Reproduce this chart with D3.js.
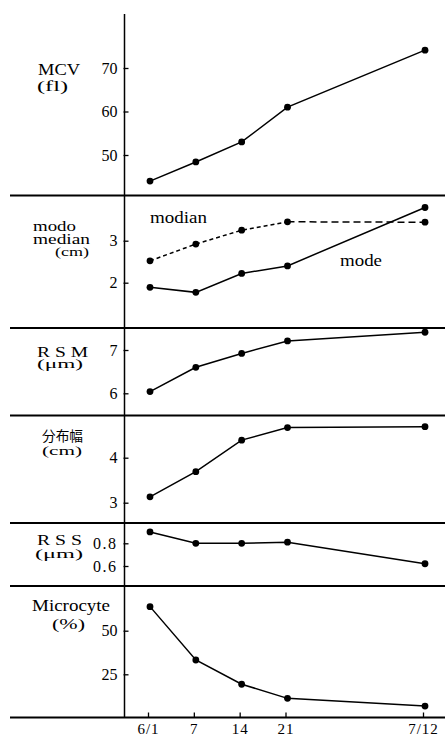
<!DOCTYPE html>
<html><head><meta charset="utf-8">
<script src="https://cdn.jsdelivr.net/npm/d3@7"></script>
<style>
html,body{margin:0;padding:0;background:#fff;}
svg{display:block;}
</style></head>
<body>
<svg id="c" width="445" height="737"></svg>
<script>
// ---- data ----
const weeks = [0, 1, 2, 3, 6];
const dateLabels = ["6/1", "7", "14", "21", "7/12"];
const mcv = [44, 48.4, 53, 61, 74.1];
const medianVals = [2.52, 2.92, 3.25, 3.45, 3.44];
const modeVals = [1.89, 1.77, 2.22, 2.40, 3.79];
const rsm = [6.04, 6.60, 6.92, 7.21, 7.41];
const distWidth = [3.13, 3.69, 4.39, 4.67, 4.69];
const rss = [0.90, 0.80, 0.80, 0.81, 0.62];
const microcyte = [63.8, 33.2, 19.3, 11.2, 6.8];

const mcvTicks = [50, 60, 70];
const modoTicks = [2, 3];
const rsmTicks = [6, 7];
const widthTicks = [3, 4];
const rssTicks = [0.6, 0.8];
const microTicks = [25, 50];

// ---- layout ----
const svg = d3.select("#c");
const axisX = 124.5;
const x = d3.scaleLinear().domain([0, 6]).range([150, 425]);
const serif = "'Liberation Serif', 'Times New Roman', serif";
const cjk = "'Noto Sans CJK JP', sans-serif";

// label: [text, x, baseline, size, width, font]
const panels = [
  {ticks: mcvTicks, dom: [50, 70], rng: [155, 68], fmt: d3.format("d"),
   series: [{v: mcv}],
   labels: [["MCV", 38, 75, 16, 42, serif], ["(fl)", 37, 91, 14, 31, serif]]},
  {ticks: modoTicks, dom: [2, 3], rng: [282.7, 240.7], fmt: d3.format("d"),
   series: [{v: modeVals}, {v: medianVals, dashed: true}],
   labels: [["modo", 33, 231, 15, 43, serif], ["median", 33, 244, 15, 57, serif], ["(cm)", 55, 256, 12, 34, serif]]},
  {ticks: rsmTicks, dom: [6, 7], rng: [393.3, 350], fmt: d3.format("d"),
   series: [{v: rsm}],
   labels: [["R S M", 37, 357, 15, 51, serif], ["(μm)", 37, 368, 13, 46, serif]]},
  {ticks: widthTicks, dom: [3, 4], rng: [502.7, 457.7], fmt: d3.format("d"),
   series: [{v: distWidth}],
   labels: [["分布幅", 42, 441, 14, 41, cjk], ["(cm)", 42, 455, 13, 40, serif]]},
  {ticks: rssTicks, dom: [0.6, 0.8], rng: [566, 543.3], fmt: d3.format(".1f"),
   series: [{v: rss}],
   labels: [["R S S", 37, 545, 15, 45, serif], ["(μm)", 35, 558, 13, 48, serif]]},
  {ticks: microTicks, dom: [25, 50], rng: [674.3, 630.7], fmt: d3.format("d"),
   series: [{v: microcyte}],
   labels: [["Microcyte", 32, 611, 16, 78, serif], ["(%)", 52, 629, 15, 33, serif]]}
];

const separators = [195.5, 328, 415.5, 523, 586];
const bottomY = 717.5;

// separators
svg.selectAll("line.sep").data(separators).enter().append("line")
  .attr("class", "sep")
  .attr("x1", 10).attr("x2", 445)
  .attr("y1", d => d).attr("y2", d => d)
  .attr("stroke", "#000").attr("stroke-width", 1.8);

// vertical axis
svg.append("line").attr("x1", axisX).attr("x2", axisX).attr("y1", 14).attr("y2", bottomY)
  .attr("stroke", "#000").attr("stroke-width", 1.5);

function addLabel(l) {
  svg.append("text").text(l[0]).attr("x", l[1]).attr("y", l[2])
    .attr("font-size", l[3]).style("font-family", l[5]).attr("fill", "#000")
    .attr("textLength", l[4]).attr("lengthAdjust", "spacingAndGlyphs");
}

panels.forEach(p => {
  const y = d3.scaleLinear().domain(p.dom).range(p.rng);
  const g = svg.append("g").attr("transform", `translate(${axisX},0)`);
  g.call(d3.axisLeft(y).tickValues(p.ticks).tickFormat(p.fmt).tickSizeInner(-4).tickSizeOuter(0).tickPadding(7));
  g.attr("font-family", null).attr("font-size", null);
  g.select(".domain").remove();
  g.selectAll(".tick line").attr("stroke", "#000").attr("stroke-width", 1.3).attr("x1", -1);
  g.selectAll(".tick text").style("font-family", serif).attr("font-size", 16)
    .attr("fill", "#000").attr("letter-spacing", p.dom[1] < 1 ? 1.5 : 0);

  p.series.forEach(s => {
    const pts = weeks.map((w, i) => [x(w), y(s.v[i])]);
    const line = d3.line();
    if (s.dashed) {
      svg.append("path").attr("d", line(pts.slice(0, 4))).attr("fill", "none")
        .attr("stroke", "#000").attr("stroke-width", 1.5).attr("stroke-dasharray", "4,3");
      svg.append("path").attr("d", line(pts.slice(3))).attr("fill", "none")
        .attr("stroke", "#000").attr("stroke-width", 1.5).attr("stroke-dasharray", "7,4");
    } else {
      svg.append("path").attr("d", line(pts)).attr("fill", "none")
        .attr("stroke", "#000").attr("stroke-width", 1.5);
    }
    svg.selectAll(null).data(pts).enter().append("circle")
      .attr("cx", d => d[0]).attr("cy", d => d[1]).attr("r", 3.4).attr("fill", "#000");
  });

  p.labels.forEach(addLabel);
});

// series annotations
addLabel(["modian", 150, 223, 16, 57, serif]);
addLabel(["mode", 340, 266, 16, 42, serif]);

// bottom x axis
const gx = svg.append("g").attr("transform", `translate(-2,${bottomY})`);
gx.call(d3.axisBottom(x).tickValues(weeks).tickFormat((d, i) => dateLabels[i])
  .tickSizeInner(-5).tickSizeOuter(0).tickPadding(6));
gx.attr("font-family", null).attr("font-size", null);
gx.select(".domain").remove();
gx.selectAll(".tick line").attr("stroke", "#000").attr("stroke-width", 1.3);
gx.selectAll(".tick text").style("font-family", serif).attr("font-size", 15).attr("fill", "#000")
  .attr("letter-spacing", 1);
svg.append("line").attr("x1", 10).attr("x2", 445).attr("y1", bottomY).attr("y2", bottomY)
  .attr("stroke", "#000").attr("stroke-width", 1.8);
</script>
</body></html>
